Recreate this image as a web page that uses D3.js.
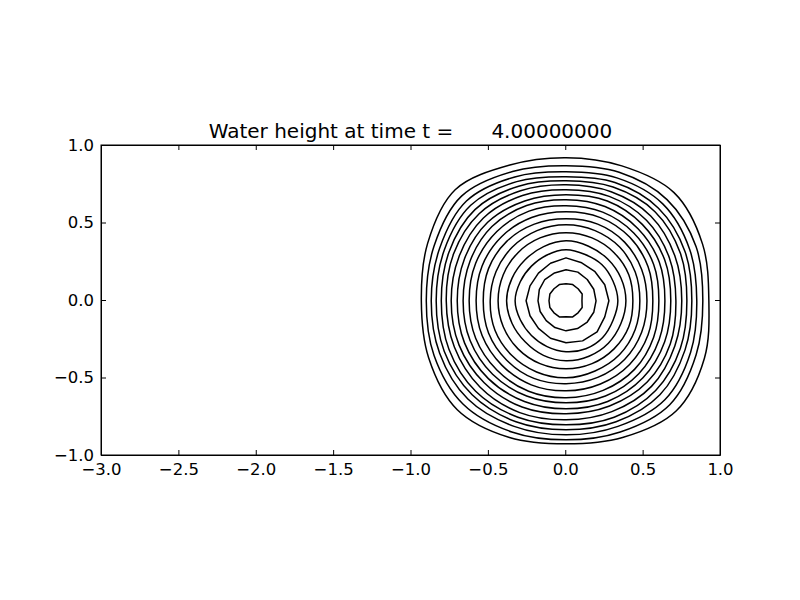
<!DOCTYPE html>
<html>
<head>
<meta charset="utf-8">
<script src="https://cdn.jsdelivr.net/npm/d3@7"></script>
<style>
  body { margin: 0; background: #fff; }
  .axis text { font-family: "DejaVu Sans", sans-serif; font-size: 16.5px; fill: #000; }
  .axis path, .axis line { stroke: #000; stroke-width: 1; }
  .title { font-family: "DejaVu Sans", sans-serif; font-size: 20px; white-space: pre; }
</style>
</head>
<body>
<div id="chart"></div>
<script>

var titleText = "Water height at time t =      4.00000000";
var xTicks = [-3, -2.5, -2, -1.5, -1, -0.5, 0, 0.5, 1];
var yTicks = [-1, -0.5, 0, 0.5, 1];
var centerX = 0.005, centerY = -0.005;

// directions the radii were read along (degrees, counter-clockwise from +x)
var angles = [0, 22.5, 45, 67.5, 90, 112.5, 135, 157.5, 180, 202.5, 225, 247.5, 270, 292.5, 315, 337.5];

// radius of each contour line along those directions, innermost first
var c1  = [0.103,0.113,0.110,0.113,0.110,0.113,0.110,0.113,0.110,0.113,0.110,0.113,0.103,0.113,0.110,0.113];
var c2  = [0.194,0.194,0.194,0.200,0.200,0.194,0.194,0.187,0.181,0.181,0.181,0.187,0.194,0.194,0.194,0.194];
var c3  = [0.277,0.271,0.265,0.265,0.277,0.262,0.252,0.252,0.258,0.252,0.252,0.262,0.271,0.280,0.284,0.271];
var c4  = [0.335,0.329,0.329,0.323,0.329,0.320,0.316,0.320,0.329,0.320,0.316,0.320,0.329,0.335,0.335,0.329];
var c5  = [0.387,0.384,0.381,0.381,0.387,0.378,0.374,0.378,0.384,0.378,0.374,0.381,0.387,0.387,0.387,0.384];
var c6  = [0.432,0.439,0.439,0.439,0.439,0.439,0.439,0.439,0.439,0.439,0.439,0.439,0.439,0.439,0.439,0.439];
var c7  = [0.477,0.484,0.490,0.490,0.490,0.490,0.490,0.490,0.490,0.497,0.497,0.497,0.497,0.490,0.490,0.484];
var c8  = [0.523,0.529,0.535,0.535,0.529,0.535,0.542,0.542,0.535,0.542,0.542,0.542,0.535,0.535,0.535,0.529];
var c9  = [0.561,0.574,0.581,0.581,0.574,0.581,0.587,0.587,0.581,0.587,0.587,0.587,0.581,0.581,0.581,0.574];
var c10 = [0.600,0.613,0.619,0.619,0.613,0.626,0.632,0.632,0.626,0.632,0.632,0.632,0.626,0.626,0.626,0.613];
var c11 = [0.639,0.652,0.658,0.658,0.652,0.665,0.677,0.671,0.665,0.671,0.671,0.665,0.658,0.665,0.665,0.652];
var c12 = [0.677,0.690,0.697,0.697,0.684,0.697,0.716,0.710,0.703,0.710,0.710,0.703,0.697,0.703,0.703,0.690];
var c13 = [0.710,0.723,0.735,0.729,0.716,0.735,0.755,0.748,0.742,0.748,0.748,0.742,0.729,0.735,0.742,0.729];
var c14 = [0.748,0.761,0.774,0.761,0.748,0.768,0.794,0.787,0.774,0.781,0.787,0.781,0.768,0.774,0.781,0.761];
var c15 = [0.781,0.800,0.813,0.794,0.774,0.800,0.832,0.819,0.806,0.819,0.826,0.813,0.800,0.813,0.819,0.800];
var c16 = [0.813,0.832,0.845,0.826,0.800,0.832,0.871,0.852,0.839,0.852,0.858,0.845,0.832,0.845,0.858,0.832];
var c17 = [0.845,0.865,0.884,0.858,0.832,0.865,0.910,0.884,0.871,0.884,0.897,0.877,0.865,0.877,0.903,0.871];
var c18 = [0.884,0.910,0.923,0.897,0.871,0.903,0.955,0.923,0.903,0.923,0.942,0.916,0.897,0.916,0.948,0.910];
var c19 = [0.923,0.955,0.987,0.942,0.923,0.948,1.013,0.968,0.935,0.961,0.994,0.955,0.923,0.955,1.006,0.968];

var contours = [c1, c2, c3, c4, c5, c6, c7, c8, c9, c10, c11, c12, c13, c14, c15, c16, c17, c18, c19];

var svg = d3.select("#chart").append("svg").attr("width", 800).attr("height", 600),
    margin = {top: 145, right: 80, bottom: 145, left: 101},
    width = +svg.attr("width") - margin.left - margin.right,
    height = +svg.attr("height") - margin.top - margin.bottom;

var g = svg.append("g")
    .attr("transform", "translate(" + margin.left + "," + margin.top + ")");

var x = d3.scaleLinear().domain([-3, 1]).range([0, width]);
var y = d3.scaleLinear().domain([-1, 1]).range([height, 0]);

g.append("clipPath").attr("id", "clip")
  .append("rect").attr("width", width).attr("height", height);

function toPoints(radii) {
  return radii.map(function(r, i) {
    var a = angles[i] * Math.PI / 180;
    return [centerX + r * Math.cos(a), centerY + r * Math.sin(a)];
  });
}

var smooth = d3.line()
    .x(function(d) { return x(d[0]); })
    .y(function(d) { return y(d[1]); })
    .curve(d3.curveCatmullRomClosed.alpha(0.5));
var straight = d3.line()
    .x(function(d) { return x(d[0]); })
    .y(function(d) { return y(d[1]); })
    .curve(d3.curveLinearClosed);

// inner lines are drawn as polygons, the outer ones smoothed
g.append("g").attr("clip-path", "url(#clip)")
  .selectAll(".contour")
  .data(contours)
  .enter().append("path")
    .attr("class", "contour")
    .attr("d", function(d, i) { return i < 3 ? straight(toPoints(d)) : smooth(toPoints(d)); })
    .style("fill", "none")
    .style("stroke", "#000")
    .style("stroke-width", 1.5)
    .style("stroke-linejoin", "round");

var fmt = d3.format(".1f");

g.append("g")
    .attr("class", "axis")
    .attr("transform", "translate(0," + height + ")")
    .call(d3.axisBottom(x).tickValues(xTicks).tickFormat(fmt).tickSizeInner(-5).tickSizeOuter(0).tickPadding(8));
g.append("g")
    .attr("class", "axis")
    .call(d3.axisTop(x).tickValues(xTicks).tickFormat("").tickSizeInner(-5).tickSizeOuter(0));
g.append("g")
    .attr("class", "axis")
    .call(d3.axisLeft(y).tickValues(yTicks).tickFormat(fmt).tickSizeInner(-5).tickSizeOuter(0).tickPadding(7));
g.append("g")
    .attr("class", "axis")
    .attr("transform", "translate(" + width + ",0)")
    .call(d3.axisRight(y).tickValues(yTicks).tickFormat("").tickSizeInner(-5).tickSizeOuter(0));

g.append("rect")
    .attr("width", width)
    .attr("height", height)
    .style("fill", "none")
    .style("stroke", "#000")
    .style("stroke-width", 1);

g.append("text")
    .attr("class", "title")
    .attr("x", width / 2)
    .attr("y", -7)
    .attr("text-anchor", "middle")
    .text(titleText);

</script>
</body>
</html>
